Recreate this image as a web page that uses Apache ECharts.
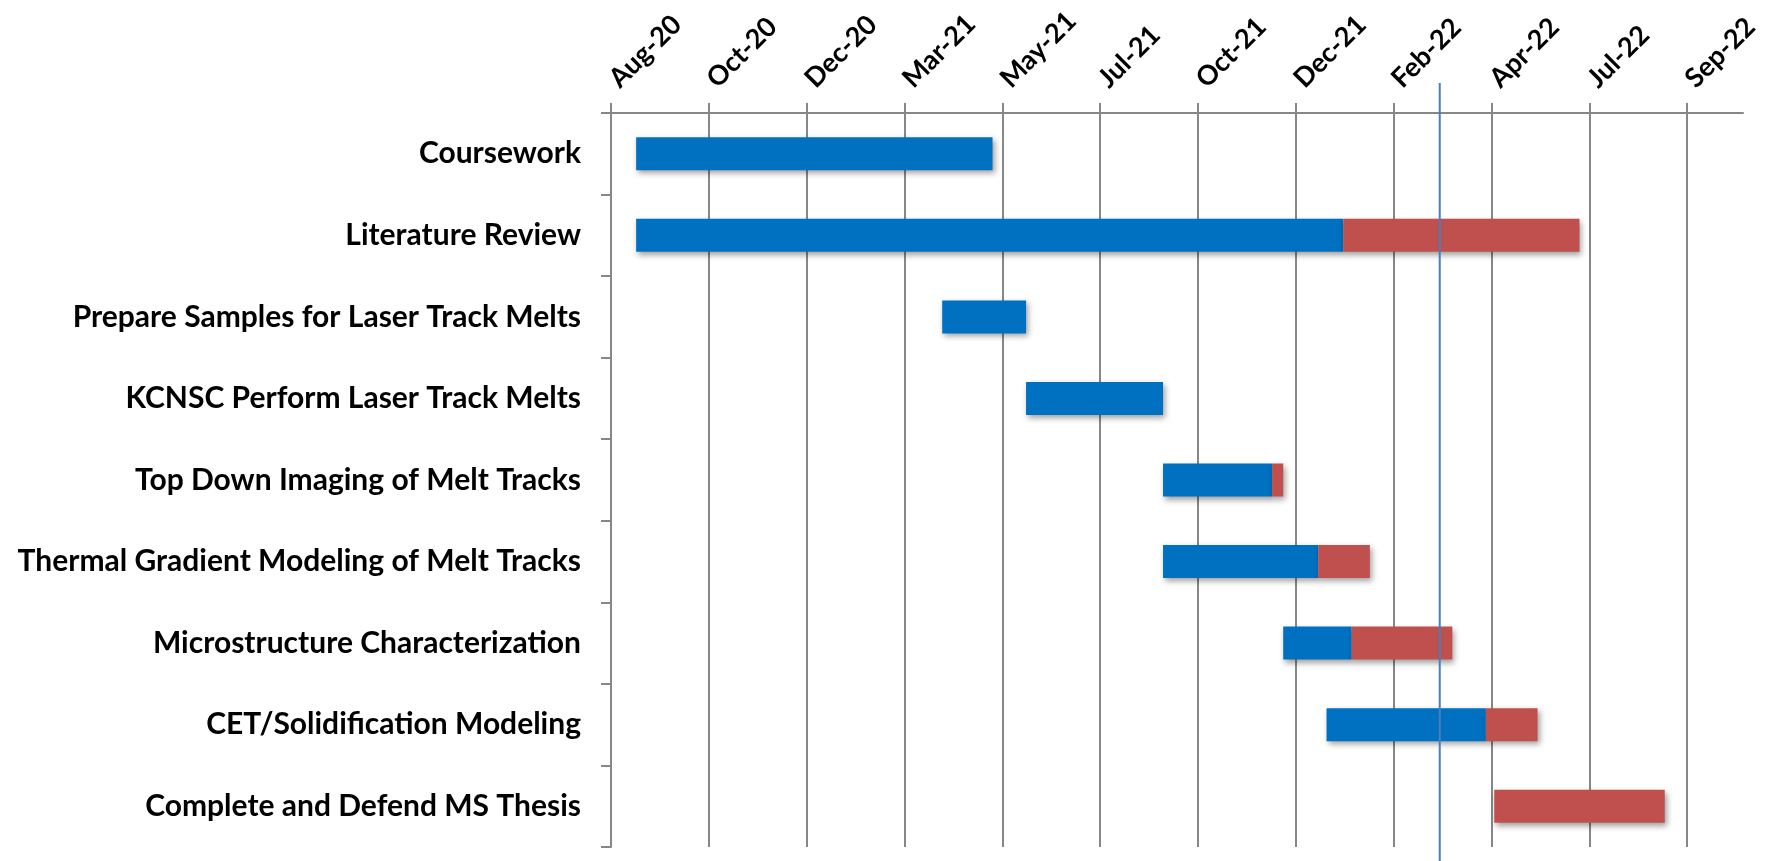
<!DOCTYPE html>
<html>
<head>
<meta charset="utf-8">
<script src="https://cdn.jsdelivr.net/npm/echarts@6/dist/echarts.min.js"></script>
<style>
  html, body { margin: 0; padding: 0; background: #ffffff; }
  #chart { width: 1766px; height: 861px; }
</style>
</head>
<body>
<div id="chart"></div>
<script>
// Thesis schedule: each task runs from its start date; the part up to the
// progress date is done (blue), the rest is still to do (red).
const tasks = [
  'Coursework',
  'Literature Review',
  'Prepare Samples for Laser Track Melts',
  'KCNSC Perform Laser Track Melts',
  'Top Down Imaging of Melt Tracks',
  'Thermal Gradient Modeling of Melt Tracks',
  'Microstructure Characterization',
  'CET/Solidification Modeling',
  'Complete and Defend MS Thesis'
];
const startDates = [
  '2020-08-26', '2020-08-26', '2021-04-02', '2021-06-01', '2021-09-07',
  '2021-09-07', '2021-12-02', '2022-01-02', '2022-05-02'
];
const progressDates = [
  '2021-05-08', '2022-01-14', '2021-06-01', '2021-09-07', '2021-11-24',
  '2021-12-27', '2022-01-20', '2022-04-26', null
];
const endDates = [
  '2021-05-08', '2022-07-02', '2021-06-01', '2021-09-07', '2021-12-02',
  '2022-02-02', '2022-04-02', '2022-06-02', '2022-09-01'
];
const statusDate = '2022-03-24';

// Timeline axis: days counted from axisStart, one label every tickStepDays.
const axisStart = '2020-08-08';
const axisEnd = '2022-10-27';
const tickStepDays = 70;
const monthNames = ['Jan', 'Feb', 'Mar', 'Apr', 'May', 'Jun',
                    'Jul', 'Aug', 'Sep', 'Oct', 'Nov', 'Dec'];

const DAY = 86400000;
function utc(s) {
  const p = s.split('-').map(Number);
  return Date.UTC(p[0], p[1] - 1, p[2]);
}
function dayOf(s) { return Math.round((utc(s) - utc(axisStart)) / DAY); }
function labelOf(days) {
  const d = new Date(utc(axisStart) + days * DAY);
  return monthNames[d.getUTCMonth()] + '-' + String(d.getUTCFullYear()).slice(2);
}

const offsetData = startDates.map(dayOf);
const doneData = tasks.map((_, i) =>
  progressDates[i] ? dayOf(progressDates[i]) - dayOf(startDates[i]) : '-');
const todoData = tasks.map((_, i) => {
  const from = progressDates[i] ? dayOf(progressDates[i]) : dayOf(startDates[i]);
  const len = dayOf(endDates[i]) - from;
  return len > 0 ? len : '-';
});

const GREY = '#878787';
const FONT = 'Lato, "Open Sans", sans-serif';
const barShadow = {
  shadowColor: 'rgba(0,0,0,0.38)',
  shadowBlur: 6,
  shadowOffsetX: 2,
  shadowOffsetY: 3
};

const chart = echarts.init(document.getElementById('chart'), null, { renderer: 'canvas' });
chart.setOption({
  animation: false,
  backgroundColor: '#ffffff',
  grid: { left: 611, right: 23, top: 113, bottom: 14, containLabel: false },
  xAxis: {
    type: 'value',
    position: 'top',
    min: 0,
    max: dayOf(axisEnd),
    interval: tickStepDays,
    axisLine: { show: true, lineStyle: { color: GREY, width: 2 } },
    axisTick: { show: true, inside: false, length: 10, lineStyle: { color: GREY, width: 2 } },
    splitLine: { show: true, showMaxLine: false, lineStyle: { color: GREY, width: 2 } },
    axisLabel: {
      rotate: -45,
      margin: 27,
      align: 'left',
      verticalAlign: 'middle',
      padding: [0, 0, 0, 4],
      showMaxLabel: false,
      color: '#000000',
      fontFamily: FONT,
      fontWeight: 'bold',
      fontSize: 27,
      formatter: labelOf
    }
  },
  yAxis: {
    type: 'category',
    inverse: true,
    data: tasks,
    axisLine: { show: true, lineStyle: { color: GREY, width: 2 } },
    axisTick: { show: true, inside: false, length: 10, lineStyle: { color: GREY, width: 2 } },
    splitLine: { show: false },
    axisLabel: {
      margin: 30,
      color: '#000000',
      fontFamily: FONT,
      fontWeight: 'bold',
      fontSize: 30
    }
  },
  series: [
    {
      name: 'Offset',
      type: 'bar',
      stack: 'plan',
      barWidth: 33,
      silent: true,
      itemStyle: { color: 'rgba(0,0,0,0)' },
      data: offsetData
    },
    {
      name: 'Completed',
      type: 'bar',
      stack: 'plan',
      barWidth: 33,
      itemStyle: Object.assign({ color: '#0070C0' }, barShadow),
      data: doneData
    },
    {
      name: 'Remaining',
      type: 'bar',
      stack: 'plan',
      barWidth: 33,
      itemStyle: Object.assign({ color: '#C0504D' }, barShadow),
      data: todoData
    },
    {
      name: 'Status date',
      type: 'custom',
      z: 10,
      clip: false,
      encode: { x: 0, y: 1 },
      data: [[dayOf(statusDate), 0]],
      renderItem: function (params, api) {
        const x = api.coord([api.value(0), 0])[0];
        return {
          type: 'line',
          shape: { x1: x, y1: 83, x2: x, y2: api.getHeight() },
          style: { stroke: '#4A7EBB', lineWidth: 2 }
        };
      }
    }
  ]
});
</script>
</body>
</html>
